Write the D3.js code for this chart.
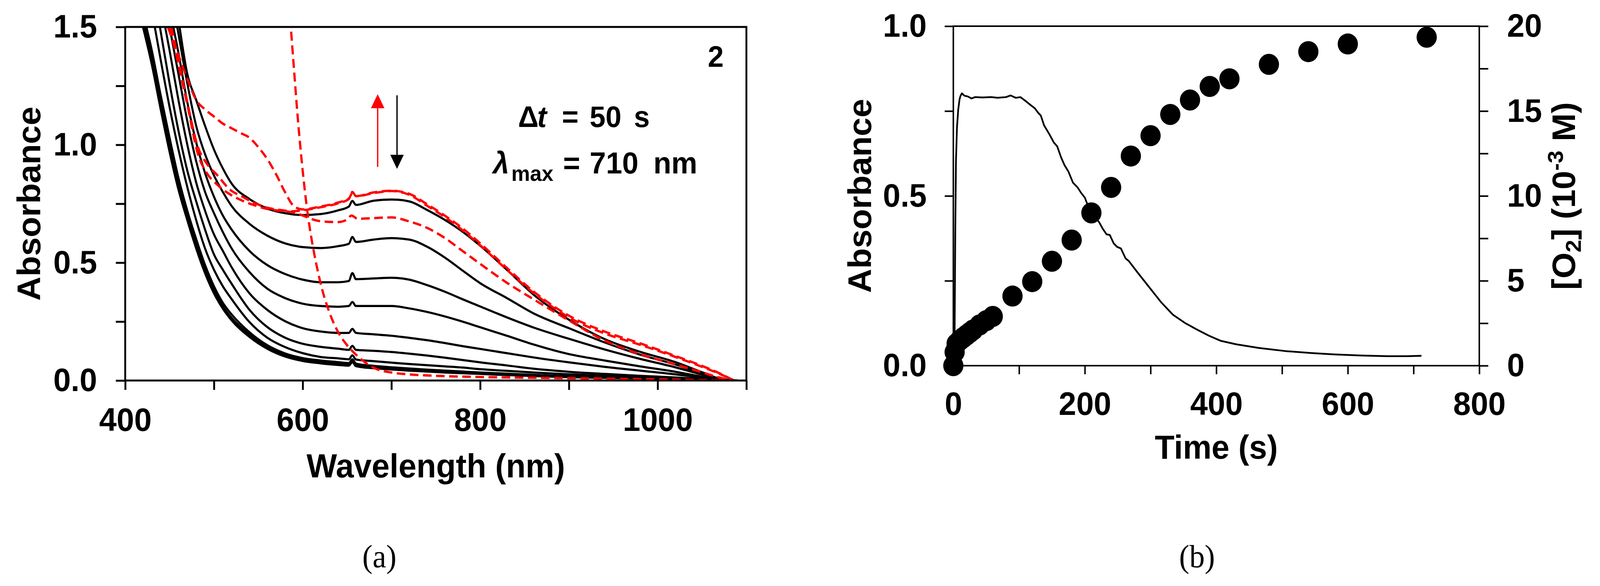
<!DOCTYPE html>
<html>
<head>
<meta charset="utf-8">
<title>Absorbance spectra and O2 evolution</title>
<script src="https://cdn.jsdelivr.net/npm/d3@7"></script>
<style>
html, body {
  margin: 0;
  padding: 0;
  width: 100%;
  height: 100%;
  overflow: hidden;
  background: #fff;
}
svg {
  display: block;
  width: 100vw;
  height: 100vh;
}
.axis text {
  font-family: "Liberation Sans", Arial, sans-serif;
  font-weight: bold;
  font-size: 84px;
  fill: #000;
}
.title {
  font-family: "Liberation Sans", Arial, sans-serif;
  font-weight: bold;
  font-size: 86px;
  fill: #000;
}
.note {
  font-family: "Liberation Sans", Arial, sans-serif;
  font-weight: bold;
  fill: #000;
}
.panel {
  font-family: "Liberation Serif", "Times New Roman", serif;
  font-size: 82px;
  fill: #000;
}
</style>
</head>
<body>
<svg id="chart" viewBox="0 0 4268 1500" preserveAspectRatio="none"></svg>

<script>
// (a) spectra, wavelength grid shared by the black traces
var wavelengths = [420, 430, 440, 450, 460, 470, 480, 490, 500, 510, 520, 540, 560, 580, 600, 620, 640, 652, 656, 660,
  680, 700, 720, 740, 760, 780, 800, 830, 860, 900, 940, 980, 1020, 1050, 1070, 1090];

var trace1 = [2.45, 2.22, 1.99, 1.77, 1.53, 1.30, 1.19, 1.08, 0.98, 0.90, 0.835, 0.77, 0.73, 0.71, 0.702, 0.706, 0.722, 0.738, 0.762, 0.745,
  0.763, 0.768, 0.76, 0.724, 0.682, 0.632, 0.572, 0.47, 0.365, 0.258, 0.176, 0.122, 0.078, 0.035, 0.008, 0];
var trace2 = [2.35, 2.12, 1.9, 1.68, 1.47, 1.26, 1.08, 0.96, 0.87, 0.80, 0.74, 0.665, 0.615, 0.582, 0.566, 0.562, 0.57, 0.58, 0.609, 0.588,
  0.598, 0.604, 0.598, 0.568, 0.522, 0.467, 0.413, 0.35, 0.285, 0.222, 0.162, 0.11, 0.068, 0.03, 0.006, 0];
var trace3 = [2.25, 2.02, 1.8, 1.58, 1.39, 1.18, 1.01, 0.88, 0.78, 0.70, 0.64, 0.55, 0.49, 0.452, 0.428, 0.417, 0.417, 0.422, 0.456, 0.43,
  0.433, 0.436, 0.428, 0.405, 0.377, 0.345, 0.314, 0.268, 0.225, 0.177, 0.132, 0.092, 0.056, 0.025, 0.005, 0];
var trace4 = [2.15, 1.93, 1.71, 1.5, 1.3, 1.1, 0.93, 0.80, 0.71, 0.63, 0.56, 0.46, 0.39, 0.35, 0.326, 0.316, 0.313, 0.316, 0.333, 0.316,
  0.316, 0.316, 0.306, 0.291, 0.272, 0.25, 0.226, 0.19, 0.153, 0.112, 0.085, 0.06, 0.037, 0.016, 0.003, 0];
var trace5 = [2.0, 1.8, 1.6, 1.4, 1.19, 1.0, 0.84, 0.72, 0.62, 0.55, 0.48, 0.37, 0.30, 0.252, 0.222, 0.208, 0.202, 0.202, 0.219, 0.202,
  0.196, 0.19, 0.181, 0.171, 0.159, 0.146, 0.134, 0.116, 0.098, 0.077, 0.058, 0.042, 0.026, 0.012, 0.003, 0];
var trace6 = [1.9, 1.7, 1.48, 1.26, 1.06, 0.89, 0.76, 0.64, 0.535, 0.47, 0.41, 0.30, 0.227, 0.182, 0.156, 0.143, 0.135, 0.13, 0.147, 0.13,
  0.126, 0.121, 0.114, 0.106, 0.097, 0.087, 0.077, 0.064, 0.05, 0.037, 0.028, 0.02, 0.013, 0.006, 0.002, 0];
var trace7 = [1.78, 1.57, 1.36, 1.16, 0.98, 0.82, 0.68, 0.56, 0.47, 0.40, 0.345, 0.248, 0.182, 0.142, 0.116, 0.1, 0.094, 0.09, 0.107, 0.089,
  0.082, 0.076, 0.07, 0.065, 0.06, 0.055, 0.048, 0.041, 0.034, 0.026, 0.02, 0.015, 0.01, 0.005, 0.001, 0];
var trace8 = [1.56, 1.4, 1.21, 1.03, 0.86, 0.72, 0.6, 0.49, 0.4, 0.33, 0.28, 0.205, 0.15, 0.115, 0.095, 0.085, 0.078, 0.074, 0.09, 0.072,
  0.062, 0.056, 0.051, 0.046, 0.042, 0.038, 0.034, 0.029, 0.024, 0.018, 0.014, 0.011, 0.007, 0.003, 0.001, 0];
var trace9 = [1.53, 1.37, 1.18, 1.0, 0.83, 0.7, 0.58, 0.47, 0.385, 0.315, 0.265, 0.195, 0.14, 0.107, 0.088, 0.078, 0.071, 0.068, 0.084, 0.066,
  0.057, 0.051, 0.046, 0.042, 0.038, 0.034, 0.031, 0.026, 0.021, 0.016, 0.012, 0.009, 0.006, 0.003, 0.001, 0];
var trace10 = [1.5, 1.34, 1.15, 0.97, 0.81, 0.68, 0.56, 0.455, 0.37, 0.305, 0.255, 0.185, 0.135, 0.102, 0.083, 0.073, 0.066, 0.063, 0.078, 0.061,
  0.052, 0.047, 0.042, 0.038, 0.034, 0.031, 0.028, 0.023, 0.019, 0.014, 0.011, 0.008, 0.005, 0.002, 0.001, 0];
var blackTraces = [trace1, trace2, trace3, trace4, trace5, trace6, trace7, trace8, trace9, trace10];

// red dashed spectra, each on its own wavelength points
var redSteepWl = [587, 590, 595, 600, 605, 610, 615, 620, 630, 640, 650, 660, 670, 680, 700, 720, 750, 800, 900, 1000, 1080];
var redSteepAbs = [1.48, 1.33, 1.09, 0.89, 0.725, 0.6, 0.5, 0.415, 0.29, 0.205, 0.15, 0.11, 0.078, 0.054, 0.034, 0.026, 0.02, 0.015, 0.01, 0.005, 0];

var redTopWl = [452, 460, 470, 482, 492, 504, 518, 532, 546, 560, 574, 588, 600, 620, 640, 652, 656, 660, 680, 700,
  720, 740, 760, 780, 800, 830, 860, 900, 940, 980, 1020, 1050, 1070, 1086];
var redTopAbs = [1.5, 1.36, 1.18, 0.99, 0.92, 0.87, 0.81, 0.78, 0.753, 0.733, 0.724, 0.718, 0.722, 0.735, 0.752, 0.77, 0.80, 0.782, 0.795, 0.804,
  0.788, 0.742, 0.694, 0.638, 0.574, 0.47, 0.372, 0.268, 0.2, 0.152, 0.1, 0.058, 0.028, 0];

var redShoulderWl = [448, 460, 470, 480, 490, 500, 510, 520, 530, 540, 550, 560, 570, 580, 590, 600, 620, 640, 652, 656,
  660, 680, 700, 720, 740, 760, 780, 800, 830, 860, 900, 940, 980, 1020, 1050, 1070, 1086];
var redShoulderAbs = [1.5, 1.38, 1.28, 1.19, 1.15, 1.12, 1.09, 1.07, 1.05, 1.03, 0.99, 0.94, 0.875, 0.80, 0.74, 0.726, 0.738, 0.755, 0.772, 0.795,
  0.782, 0.798, 0.805, 0.792, 0.748, 0.70, 0.646, 0.582, 0.478, 0.378, 0.275, 0.208, 0.158, 0.104, 0.062, 0.03, 0];

var redLowWl = [450, 460, 470, 482, 492, 504, 518, 532, 546, 560, 574, 588, 600, 610, 620, 640, 650, 655, 662, 680,
  700, 720, 740, 760, 780, 800, 830, 860, 900, 940, 980, 1020, 1050, 1070, 1084];
var redLowAbs = [1.5, 1.34, 1.17, 0.96, 0.88, 0.83, 0.79, 0.763, 0.743, 0.728, 0.72, 0.714, 0.70, 0.685, 0.676, 0.672, 0.683, 0.70, 0.686, 0.689,
  0.692, 0.675, 0.648, 0.605, 0.55, 0.495, 0.415, 0.345, 0.255, 0.17, 0.112, 0.068, 0.035, 0.012, 0];

var redTraces = [
  [redSteepWl, redSteepAbs],
  [redTopWl, redTopAbs],
  [redShoulderWl, redShoulderAbs],
  [redLowWl, redLowAbs]
];

// arrows: wavelength, start and tip absorbance
var arrows = [
  {wl: 684.5, from: 0.906, to: 1.215, color: "#ff0000"},
  {wl: 706.3, from: 1.21, to: 0.898, color: "#000"}
];

var ticksWl = [400, 500, 600, 700, 800, 900, 1000, 1100];
var ticksAbsA = [0, 0.25, 0.5, 0.75, 1.0, 1.25, 1.5];

// (b) kinetics
var absTime = [1, 2, 3, 4, 5.5, 7.5, 9.5, 11, 13, 17, 22, 27.5, 33, 44, 58, 67, 80, 87, 95, 102,
  109, 116, 124, 129, 133, 138, 146, 153, 158, 164, 169, 175, 182, 189, 194, 200, 205, 211, 222, 227,
  233, 238, 244, 249, 255, 262, 267, 280, 298, 316, 334, 353, 371, 389, 407, 430, 465, 505, 545, 580,
  620, 660, 690, 712];
var absTrace = [0.02, 0.1, 0.4, 0.6, 0.7, 0.755, 0.785, 0.795, 0.802, 0.795, 0.793, 0.787, 0.791, 0.79, 0.791, 0.789, 0.791, 0.796, 0.789, 0.791,
  0.781, 0.77, 0.758, 0.745, 0.737, 0.708, 0.682, 0.657, 0.646, 0.613, 0.591, 0.572, 0.539, 0.525, 0.51, 0.495, 0.47, 0.451, 0.422, 0.404,
  0.387, 0.385, 0.36, 0.35, 0.345, 0.316, 0.308, 0.275, 0.231, 0.187, 0.15, 0.125, 0.106, 0.088, 0.073, 0.063, 0.052, 0.043, 0.037, 0.033,
  0.03, 0.028, 0.028, 0.029];

var o2Time = [0, 2, 5, 10, 15, 20, 25, 30, 40, 50, 60, 90, 120, 150, 180, 210, 240, 270, 300, 330, 360, 390, 420, 480, 540, 600, 720];
var o2Conc = [0, 0.8, 1.3, 1.5, 1.65, 1.8, 1.95, 2.1, 2.4, 2.65, 2.9, 4.1, 4.95, 6.15, 7.4, 9.0, 10.5, 12.35, 13.55, 14.8, 15.65, 16.45, 16.9, 17.75, 18.5, 18.95, 19.35];

var ticksTime = [0, 100, 200, 300, 400, 500, 600, 700, 800];
var ticksAbsB = [0, 0.25, 0.5, 0.75, 1.0];
var ticksO2 = [0, 2.5, 5, 7.5, 10, 12.5, 15, 17.5, 20];

var svg = d3.select("#chart");

var xL = d3.scaleLinear().domain([400, 1100]).range([334, 1991]);
var yL = d3.scaleLinear().domain([0, 1.5]).range([974, 69]);
var xR = d3.scaleLinear().domain([0, 800]).range([2543, 3946]);
var yR = d3.scaleLinear().domain([0, 1]).range([936, 67]);
var yO = d3.scaleLinear().domain([0, 20]).range([936, 67]);

function styleAxis(g, w) {
  g.select(".domain").remove();
  g.selectAll(".tick line").attr("stroke", "#000").attr("stroke-width", w);
  g.attr("font-size", null).attr("font-family", null);
}

// ---------- panel (a) ----------
svg.append("defs").append("clipPath").attr("id", "clipA")
  .append("rect").attr("x", xL(400)).attr("y", yL(1.5))
  .attr("width", xL(1100) - xL(400)).attr("height", yL(0) - yL(1.5));

var gxA = svg.append("g").attr("class", "axis").attr("transform", "translate(0," + yL(0) + ")")
  .call(d3.axisBottom(xL).tickValues(ticksWl).tickSize(24).tickPadding(45)
    .tickFormat(function(d) { return (d % 200 === 0 && d < 1100) ? d : ""; }));
styleAxis(gxA, 5);

var gyA = svg.append("g").attr("class", "axis").attr("transform", "translate(" + xL(400) + ",0)")
  .call(d3.axisLeft(yL).tickValues(ticksAbsA).tickSize(25).tickPadding(50)
    .tickFormat(function(d) { return Math.round(d * 100) % 50 === 0 ? d3.format(".1f")(d) : ""; }));
styleAxis(gyA, 5);

var plotA = svg.append("g").attr("clip-path", "url(#clipA)");

var lineA = d3.line()
  .x(function(d, i) { return xL(wavelengths[i]); })
  .y(function(d) { return yL(d); })
  .curve(d3.curveMonotoneX);

plotA.selectAll(".black").data(blackTraces).enter().append("path")
  .attr("class", "black")
  .attr("d", lineA)
  .attr("fill", "none").attr("stroke", "#000").attr("stroke-width", 5.5)
  .attr("stroke-linejoin", "round");

var lineRed = d3.line()
  .x(function(d) { return xL(d[0]); })
  .y(function(d) { return yL(d[1]); })
  .curve(d3.curveMonotoneX);

plotA.selectAll(".red").data(redTraces).enter().append("path")
  .attr("class", "red")
  .attr("d", function(t) { return lineRed(d3.zip(t[0], t[1])); })
  .attr("fill", "none").attr("stroke", "#ff0000").attr("stroke-width", 6)
  .attr("stroke-dasharray", "23,12");

svg.append("rect")
  .attr("x", xL(400)).attr("y", yL(1.5))
  .attr("width", xL(1100) - xL(400)).attr("height", yL(0) - yL(1.5))
  .attr("fill", "none").attr("stroke", "#000").attr("stroke-width", 5);

arrows.forEach(function(a) {
  var x = xL(a.wl), y0 = yL(a.from), y1 = yL(a.to);
  var dir = y1 < y0 ? 1 : -1;
  var headLen = 36, halfW = 18;
  var yb = y1 + dir * headLen;
  svg.append("line").attr("x1", x).attr("x2", x).attr("y1", y0).attr("y2", yb)
    .attr("stroke", a.color).attr("stroke-width", 3.5);
  svg.append("path")
    .attr("d", "M" + x + "," + y1 + "L" + (x - halfW) + "," + yb + "L" + (x + halfW) + "," + yb + "Z")
    .attr("fill", a.color);
});

svg.append("text").attr("class", "title")
  .attr("transform", "translate(107," + (yL(0.75)) + ") rotate(-90)")
  .attr("text-anchor", "middle").text("Absorbance");
svg.append("text").attr("class", "title")
  .attr("x", (xL(400) + xL(1100)) / 2).attr("y", 1222)
  .attr("text-anchor", "middle").text("Wavelength (nm)");

svg.append("text").attr("class", "note").attr("font-size", 76)
  .attr("x", 1888).attr("y", 171).text("2");

var dt = svg.append("text").attr("class", "note").attr("font-size", 76).attr("y", 325);
dt.append("tspan").attr("x", 1382).text("\u0394");
dt.append("tspan").attr("x", 1433).attr("font-style", "italic").text("t");
dt.append("tspan").attr("x", 1499).text("=");
dt.append("tspan").attr("x", 1573).text("50");
dt.append("tspan").attr("x", 1691).text("s");

var lm = svg.append("text").attr("class", "note").attr("font-size", 78).attr("y", 444);
lm.append("tspan").attr("x", 1315).attr("font-style", "italic").text("\u03bb");
lm.append("tspan").attr("x", 1364).attr("y", 463).attr("font-size", 56).text("max");
lm.append("tspan").attr("x", 1502).attr("y", 444).text("=");
lm.append("tspan").attr("x", 1573).text("710");
lm.append("tspan").attr("x", 1743).text("nm");

svg.append("text").attr("class", "panel")
  .attr("x", 1012).attr("y", 1452).attr("text-anchor", "middle").text("(a)");

// ---------- panel (b) ----------
var gxB = svg.append("g").attr("class", "axis").attr("transform", "translate(0," + yR(0) + ")")
  .call(d3.axisBottom(xR).tickValues(ticksTime).tickSize(22).tickPadding(44)
    .tickFormat(function(d) { return d % 200 === 0 ? d : ""; }));
styleAxis(gxB, 4);

var gyB = svg.append("g").attr("class", "axis").attr("transform", "translate(" + xR(0) + ",0)")
  .call(d3.axisLeft(yR).tickValues(ticksAbsB).tickSize(23).tickPadding(48)
    .tickFormat(function(d) { return Math.round(d * 100) % 50 === 0 ? d3.format(".1f")(d) : ""; }));
styleAxis(gyB, 4);

var gyO = svg.append("g").attr("class", "axis").attr("transform", "translate(" + xR(800) + ",0)")
  .call(d3.axisRight(yO).tickValues(ticksO2).tickSize(24).tickPadding(50)
    .tickFormat(function(d) { return d % 5 === 0 ? d : ""; }));
styleAxis(gyO, 4);

svg.append("rect")
  .attr("x", xR(0)).attr("y", yR(1))
  .attr("width", xR(800) - xR(0)).attr("height", yR(0) - yR(1))
  .attr("fill", "none").attr("stroke", "#000").attr("stroke-width", 4);

var lineB = d3.line()
  .x(function(d) { return xR(d[0]); })
  .y(function(d) { return yR(d[1]); });

svg.append("path")
  .attr("d", lineB(d3.zip(absTime, absTrace)))
  .attr("fill", "none").attr("stroke", "#000").attr("stroke-width", 4.5)
  .attr("stroke-linejoin", "round");

svg.selectAll(".dot").data(d3.zip(o2Time, o2Conc)).enter().append("circle")
  .attr("class", "dot")
  .attr("cx", function(d) { return xR(d[0]); })
  .attr("cy", function(d) { return yO(d[1]); })
  .attr("r", 27)
  .attr("fill", "#000");

svg.append("text").attr("class", "title")
  .attr("transform", "translate(2324," + yR(0.5) + ") rotate(-90)")
  .attr("text-anchor", "middle").text("Absorbance");
svg.append("text").attr("class", "title")
  .attr("x", (xR(0) + xR(800)) / 2).attr("y", 1174)
  .attr("text-anchor", "middle").text("Time (s)");

var o2 = svg.append("text").attr("class", "title")
  .attr("transform", "translate(4201," + yR(0.5) + ") rotate(-90)")
  .attr("text-anchor", "middle");
o2.append("tspan").text("[O");
o2.append("tspan").attr("font-size", 58).attr("dy", 16).text("2");
o2.append("tspan").attr("dy", -16).text("] (10");
o2.append("tspan").attr("font-size", 58).attr("dy", -32).text("-3");
o2.append("tspan").attr("dy", 32).text(" M)");

svg.append("text").attr("class", "panel")
  .attr("x", 3193).attr("y", 1452).attr("text-anchor", "middle").text("(b)");
</script>
</body>
</html>
